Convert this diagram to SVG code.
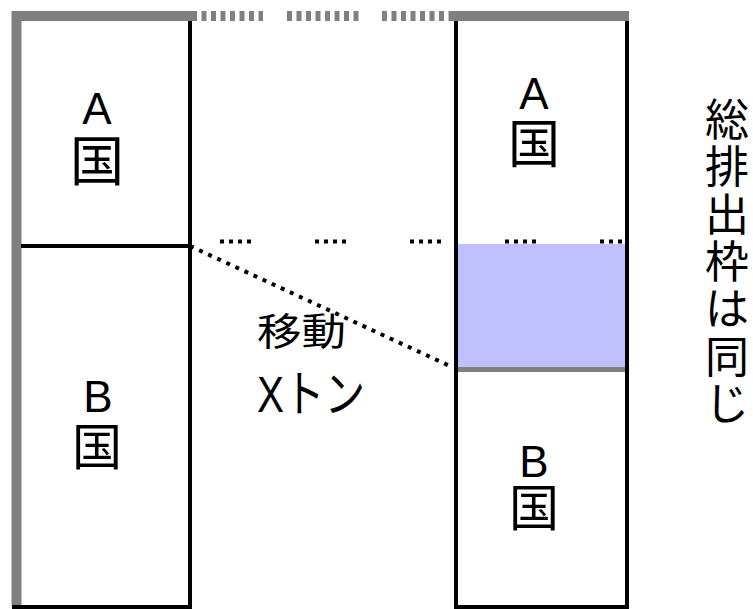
<svg xmlns="http://www.w3.org/2000/svg" width="753" height="609" viewBox="0 0 753 609">
<style>
.gray{stroke:#808080;stroke-width:10;fill:none}
.blk{stroke:#000;stroke-width:4;fill:none}
.lbl{font-family:"Liberation Sans","Noto Sans CJK JP",sans-serif;fill:#000}
.cjk{font-family:"Noto Sans CJK JP","Noto Sans CJK SC",sans-serif;fill:#000}
.dots{stroke:#000;stroke-width:4;fill:none}
</style>
<rect x="0" y="0" width="753" height="609" fill="#fff"/>
<g id="top-border">
<line class="gray" x1="12" y1="16" x2="192" y2="16"/>
<line class="gray" x1="192" y1="16" x2="263" y2="16" stroke-dasharray="5 4.5"/>
<line class="gray" x1="287" y1="16" x2="359" y2="16" stroke-dasharray="5 4.5"/>
<line class="gray" x1="382" y1="16" x2="449" y2="16" stroke-dasharray="5 4.5"/>
<line class="gray" x1="449" y1="16" x2="629" y2="16"/>
</g>
<g id="country-left">
<line class="gray" x1="16.5" y1="11" x2="16.5" y2="605"/>
<line class="blk" x1="190" y1="21" x2="190" y2="609"/>
<line class="blk" x1="12" y1="607" x2="192" y2="607"/>
<line class="blk" x1="21" y1="246" x2="190" y2="246"/>
<g id="left-a">
<text class="lbl" x="97" y="124" font-size="44" text-anchor="middle">A</text>
<text class="cjk" x="97" y="181" font-size="54" text-anchor="middle">国</text>
</g>
<g id="left-b">
<text class="lbl" x="98" y="412" font-size="44" text-anchor="middle">B</text>
<text class="cjk" x="97" y="465" font-size="50" text-anchor="middle">国</text>
</g>
</g>
<g id="country-right">
<rect x="458" y="244" width="167" height="123" fill="#C0C0FF"/>
<line x1="458" y1="369.5" x2="625" y2="369.5" stroke="#808080" stroke-width="5"/>
<line class="blk" x1="456" y1="21" x2="456" y2="609"/>
<line class="blk" x1="627" y1="21" x2="627" y2="609"/>
<line class="blk" x1="454" y1="607" x2="629" y2="607"/>
<g id="right-a">
<text class="lbl" x="534" y="109" font-size="44" text-anchor="middle">A</text>
<text class="cjk" x="534" y="163" font-size="52" text-anchor="middle">国</text>
</g>
<g id="right-b">
<text class="lbl" x="534" y="477" font-size="44" text-anchor="middle">B</text>
<text class="cjk" x="534" y="526" font-size="50" text-anchor="middle">国</text>
</g>
</g>
<g id="connectors">
<line class="dots" x1="220" y1="241.5" x2="625" y2="241.5" stroke-dasharray="4 5 4 5 4 5 4 64"/>
<line class="dots" x1="190" y1="246" x2="452" y2="367" stroke-dasharray="4 6"/>
</g>
<g id="transfer-label">
<text class="cjk" x="257" y="345" font-size="38" textLength="89" lengthAdjust="spacingAndGlyphs">移動</text>
<text class="cjk" x="257" y="412" font-size="50" textLength="108" lengthAdjust="spacingAndGlyphs"><tspan font-family="Liberation Sans, sans-serif">X</tspan>トン</text>
</g>
<g id="note">
<text class="cjk" font-size="44" text-anchor="middle"><tspan x="727" y="136">総</tspan><tspan x="727" y="183">排</tspan><tspan x="727" y="231">出</tspan><tspan x="727" y="278">枠</tspan><tspan x="727" y="325">は</tspan><tspan x="727" y="373">同</tspan><tspan x="727" y="420">じ</tspan></text>
</g>
</svg>
